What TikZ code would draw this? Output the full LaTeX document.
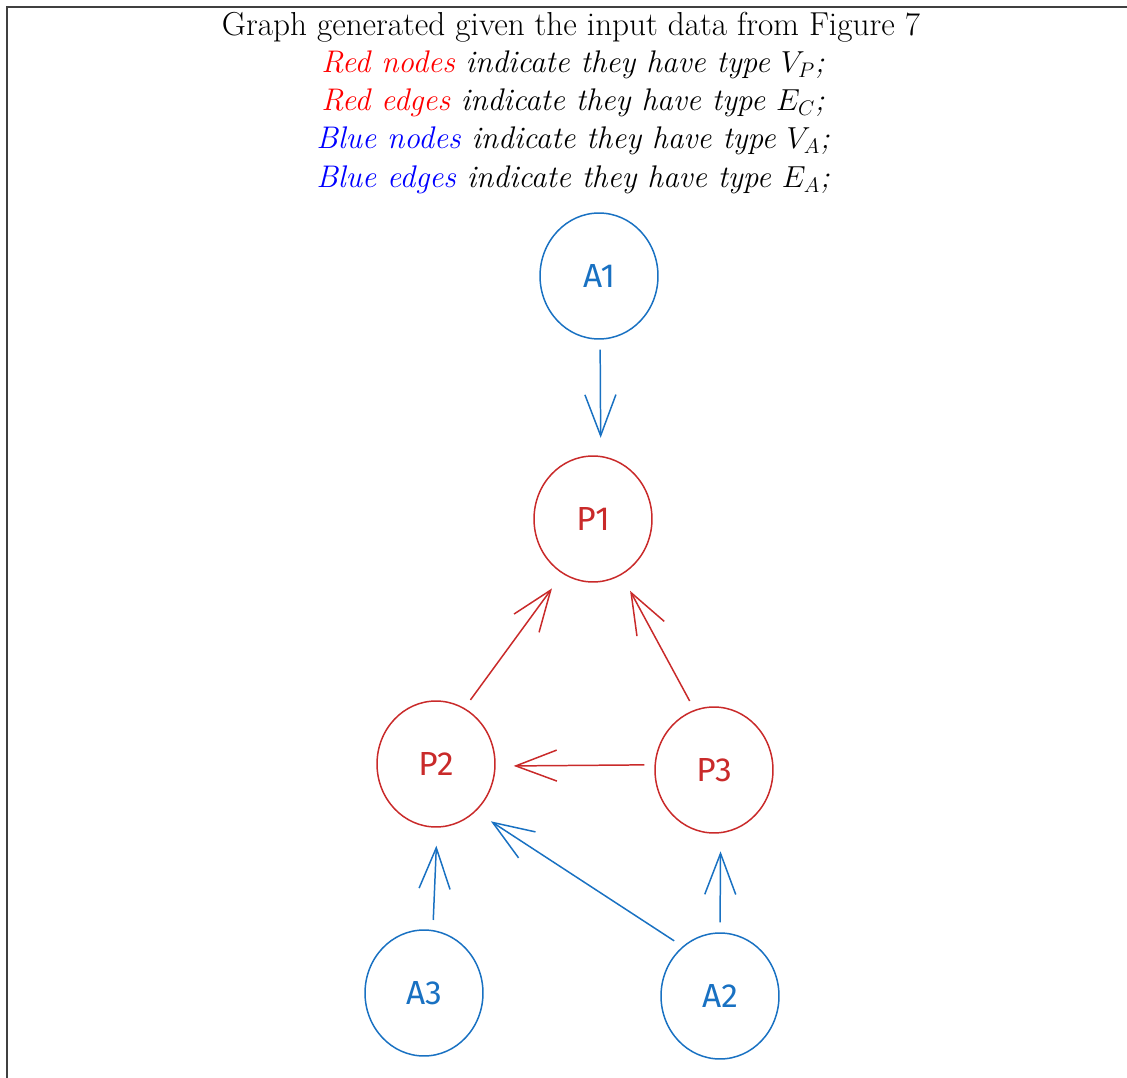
\documentclass[tikz,border=0pt]{standalone}
\usepackage{fontspec}
\newfontfamily\handfont{Fira Sans}
\usepackage{xcolor}
\usetikzlibrary{shapes.geometric,arrows.meta}

\definecolor{pred}{HTML}{C92A2A}
\definecolor{ablue}{HTML}{1971C2}

\tikzset{
    vnode/.style={draw, ellipse, line width=0.85pt, minimum width=2.36cm, minimum height=2.52cm,
        inner sep=0pt, font=\handfont\fontsize{19}{19}\selectfont},
    pnode/.style={vnode, draw=pred, text=pred},
    anode/.style={vnode, draw=ablue, text=ablue},
    edge/.style={line width=0.85pt, shorten <=0.2cm, shorten >=0.36cm,
        -{Straight Barb[length=0.82cm, width=0.62cm, line width=0.85pt]}},
    cedge/.style={edge, draw=pred},
    aedge/.style={edge, draw=ablue},
    legend/.style={font=\fontsize{17.8}{21}\selectfont\itshape}
}

\begin{document}
\begin{tikzpicture}[x=0.02cm, y=-0.02cm, font=\fontsize{18.9}{22}\selectfont]
    \useasboundingbox (0, 0) rectangle (1127, 1078);
    % Frame
    \draw[line width=1.1pt, black!75] (7, 1078) -- (7, 7) -- (1127, 7);

    % Title and legend
    \node (title) at (571, 27) {Graph generated given the input data from Figure 7};
    \node[legend] (leg1) at (573, 65) {\textcolor{red}{Red nodes} indicate they have type $V_P$;};
    \node[legend] (leg2) at (573, 103) {\textcolor{red}{Red edges} indicate they have type $E_C$;};
    \node[legend] (leg3) at (573, 141) {\textcolor{blue}{Blue nodes} indicate they have type $V_A$;};
    \node[legend] (leg4) at (573, 180) {\textcolor{blue}{Blue edges} indicate they have type $E_A$;};

    % Nodes
    \node[anode] (A1) at (599, 276) {A1};
    \node[pnode] (P1) at (593, 519) {P1};
    \node[pnode] (P2) at (436, 764) {P2};
    \node[pnode] (P3) at (714, 770) {P3};
    \node[anode] (A3) at (424, 993) {A3};
    \node[anode] (A2) at (720, 996) {A2};

    % Edges
    \draw[aedge] (A1.-89) -- (P1.83);
    \draw[cedge] (P2.63) -- (P1.-119);
    \draw[cedge] (P3.108) -- (P1.-63);
    \draw[cedge] (P3.175) -- (P2.-2);
    \draw[aedge] (A3.82) -- (P2.-89);
    \draw[aedge] (A2.127) -- (P2.-50);
    \draw[aedge] (A2.90) -- (P3.-84);
\end{tikzpicture}
\end{document}
